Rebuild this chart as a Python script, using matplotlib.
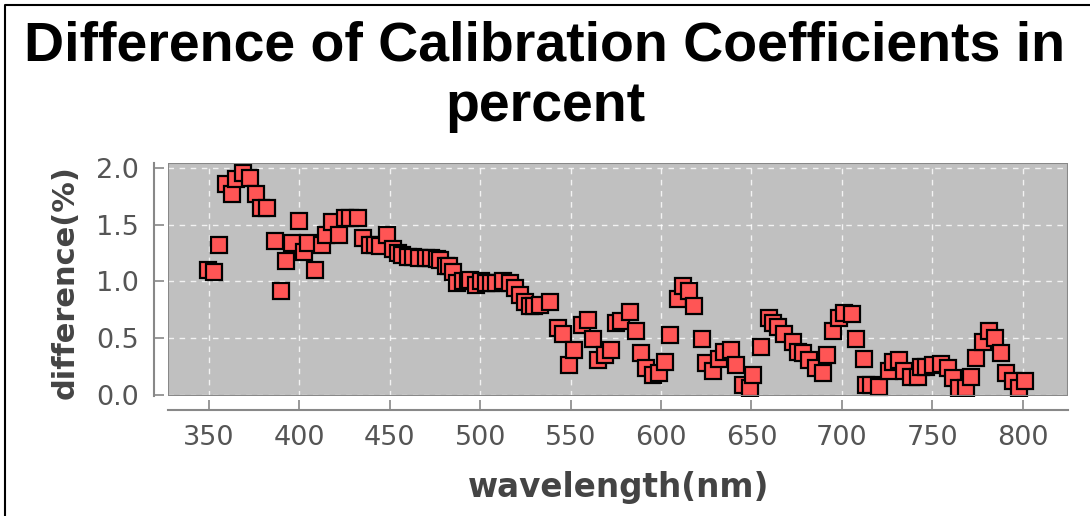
import matplotlib
matplotlib.use("Agg")
import matplotlib.pyplot as plt

# wavelength (nm) and difference (%)
wavelength = [349.5, 352.8, 355.7, 359.4, 363.0, 365.0, 369.0, 373.0, 376.3, 379.0,
              382.0, 386.6, 390.0, 392.5, 395.7, 399.9, 402.5, 405.0, 408.6, 412.8,
              415.0, 418.3, 422.0, 425.0, 428.0, 432.5, 435.0, 439.0, 441.7, 444.5,
              448.5, 451.8, 454.6, 457.0, 460.0, 463.0, 466.0, 470.0, 473.0, 476.0,
              477.6, 481.3, 483.0, 485.0, 487.0, 490.5, 493.3, 494.2, 497.9, 500.7,
              503.4, 506.2, 509.0, 512.6, 516.3, 519.0, 521.8, 524.6, 527.3, 530.0,
              533.0, 538.7, 543.0, 546.0, 549.0, 551.8, 556.4, 559.6, 562.4, 565.0,
              568.8, 572.5, 575.3, 578.0, 583.0, 586.3, 589.0, 591.8, 595.5, 599.0,
              602.0, 605.0, 609.3, 612.0, 615.4, 618.0, 622.8, 625.0, 628.6, 632.3,
              635.0, 638.8, 641.5, 645.2, 649.0, 650.7, 655.0, 659.6, 661.8, 664.6,
              668.2, 672.8, 675.6, 678.4, 682.0, 685.7, 689.4, 692.0, 695.0, 698.2,
              701.4, 705.6, 708.0, 712.4, 713.3, 716.0, 720.7, 726.2, 728.0, 731.7,
              734.5, 738.3, 741.9, 743.8, 746.6, 750.3, 754.9, 758.6, 761.4, 765.0,
              768.8, 771.5, 774.3, 778.0, 781.5, 784.8, 788.0, 790.7, 794.4, 798.0,
              801.4]
difference = [1.10, 1.08, 1.32, 1.86, 1.77, 1.90, 1.96, 1.91, 1.77, 1.65,
              1.65, 1.36, 0.92, 1.18, 1.34, 1.53, 1.26, 1.34, 1.10, 1.32,
              1.41, 1.52, 1.41, 1.56, 1.56, 1.56, 1.38, 1.32, 1.32, 1.31,
              1.41, 1.29, 1.25, 1.23, 1.22, 1.22, 1.21, 1.21, 1.21, 1.20,
              1.19, 1.14, 1.14, 1.08, 0.99, 1.00, 1.00, 1.01, 0.97, 1.00,
              0.99, 0.99, 0.99, 1.00, 0.99, 0.94, 0.88, 0.82, 0.78, 0.78,
              0.79, 0.82, 0.59, 0.54, 0.26, 0.40, 0.62, 0.66, 0.49, 0.31,
              0.35, 0.40, 0.63, 0.65, 0.73, 0.56, 0.37, 0.24, 0.18, 0.19,
              0.29, 0.53, 0.85, 0.96, 0.92, 0.78, 0.49, 0.28, 0.21, 0.32,
              0.38, 0.40, 0.26, 0.09, 0.06, 0.18, 0.42, 0.68, 0.63, 0.60,
              0.54, 0.47, 0.38, 0.37, 0.31, 0.24, 0.19, 0.35, 0.56, 0.68,
              0.72, 0.71, 0.49, 0.32, 0.09, 0.09, 0.07, 0.21, 0.29, 0.31,
              0.21, 0.16, 0.16, 0.25, 0.25, 0.26, 0.27, 0.24, 0.15, 0.06,
              0.06, 0.16, 0.33, 0.47, 0.56, 0.50, 0.37, 0.19, 0.12, 0.06,
              0.12]

f = plt.figure(figsize=(10.9, 5.16), dpi=100)
ax = f.add_axes([168/1090, 1 - 396/516, 900/1090, 233/516])
ax.set_facecolor("#c0c0c0")

ax.plot(wavelength, difference, ls="none", marker="s", ms=11.5, mfc="#ff5555",
        mec="black", mew=1.6, zorder=3)

ax.set_xlim(327.4, 825.0)
ax.set_ylim(-0.009, 2.044)
ax.set_xticks([350, 400, 450, 500, 550, 600, 650, 700, 750, 800])
ax.set_yticks([0.0, 0.5, 1.0, 1.5, 2.0])
ax.set_yticklabels(["0.0", "0.5", "1.0", "1.5", "2.0"])
ax.grid(True, color="white", ls=(0, (4, 4)), lw=1.0, alpha=0.8)

for s in ["top", "right"]:
    ax.spines[s].set_visible(False)
for s in ["left", "bottom"]:
    ax.spines[s].set_position(("outward", 10))
    ax.spines[s].set_color("#888888")
    ax.spines[s].set_linewidth(1.5)
ax.add_patch(plt.Rectangle((0, 0), 1, 1, transform=ax.transAxes, fill=False,
                           ec="#888888", lw=1.5, zorder=4))

ax.tick_params(direction="in", length=7, width=1.2, color="#888888",
               labelcolor="#555555", labelsize=19.5)
ax.tick_params(axis="y", pad=11)
ax.tick_params(axis="x", pad=11)

ax.set_xlabel("wavelength(nm)", fontsize=23.5, color="#444444", fontweight="bold")
ax.set_ylabel("difference(%)", fontsize=22, color="#444444", fontweight="bold")
ax.xaxis.set_label_coords((619 - 168) / 900, -0.32)
ax.yaxis.set_label_coords(-0.098, 0.49)

f.text(0.5, 1 - 47/516, "Difference of Calibration Coefficients in", ha="center",
       va="center", fontsize=40, fontweight="bold", family="Liberation Sans")
f.text(0.5, 1 - 107/516, "percent", ha="center", va="center", fontsize=40,
       fontweight="bold", family="Liberation Sans")

# outer frame (left and top)
f.add_artist(plt.Line2D([5/1090, 5/1090, 1], [0, 1 - 5/516, 1 - 5/516],
                        transform=f.transFigure, color="black", lw=1.5))

f.savefig("out.png", dpi=100)
